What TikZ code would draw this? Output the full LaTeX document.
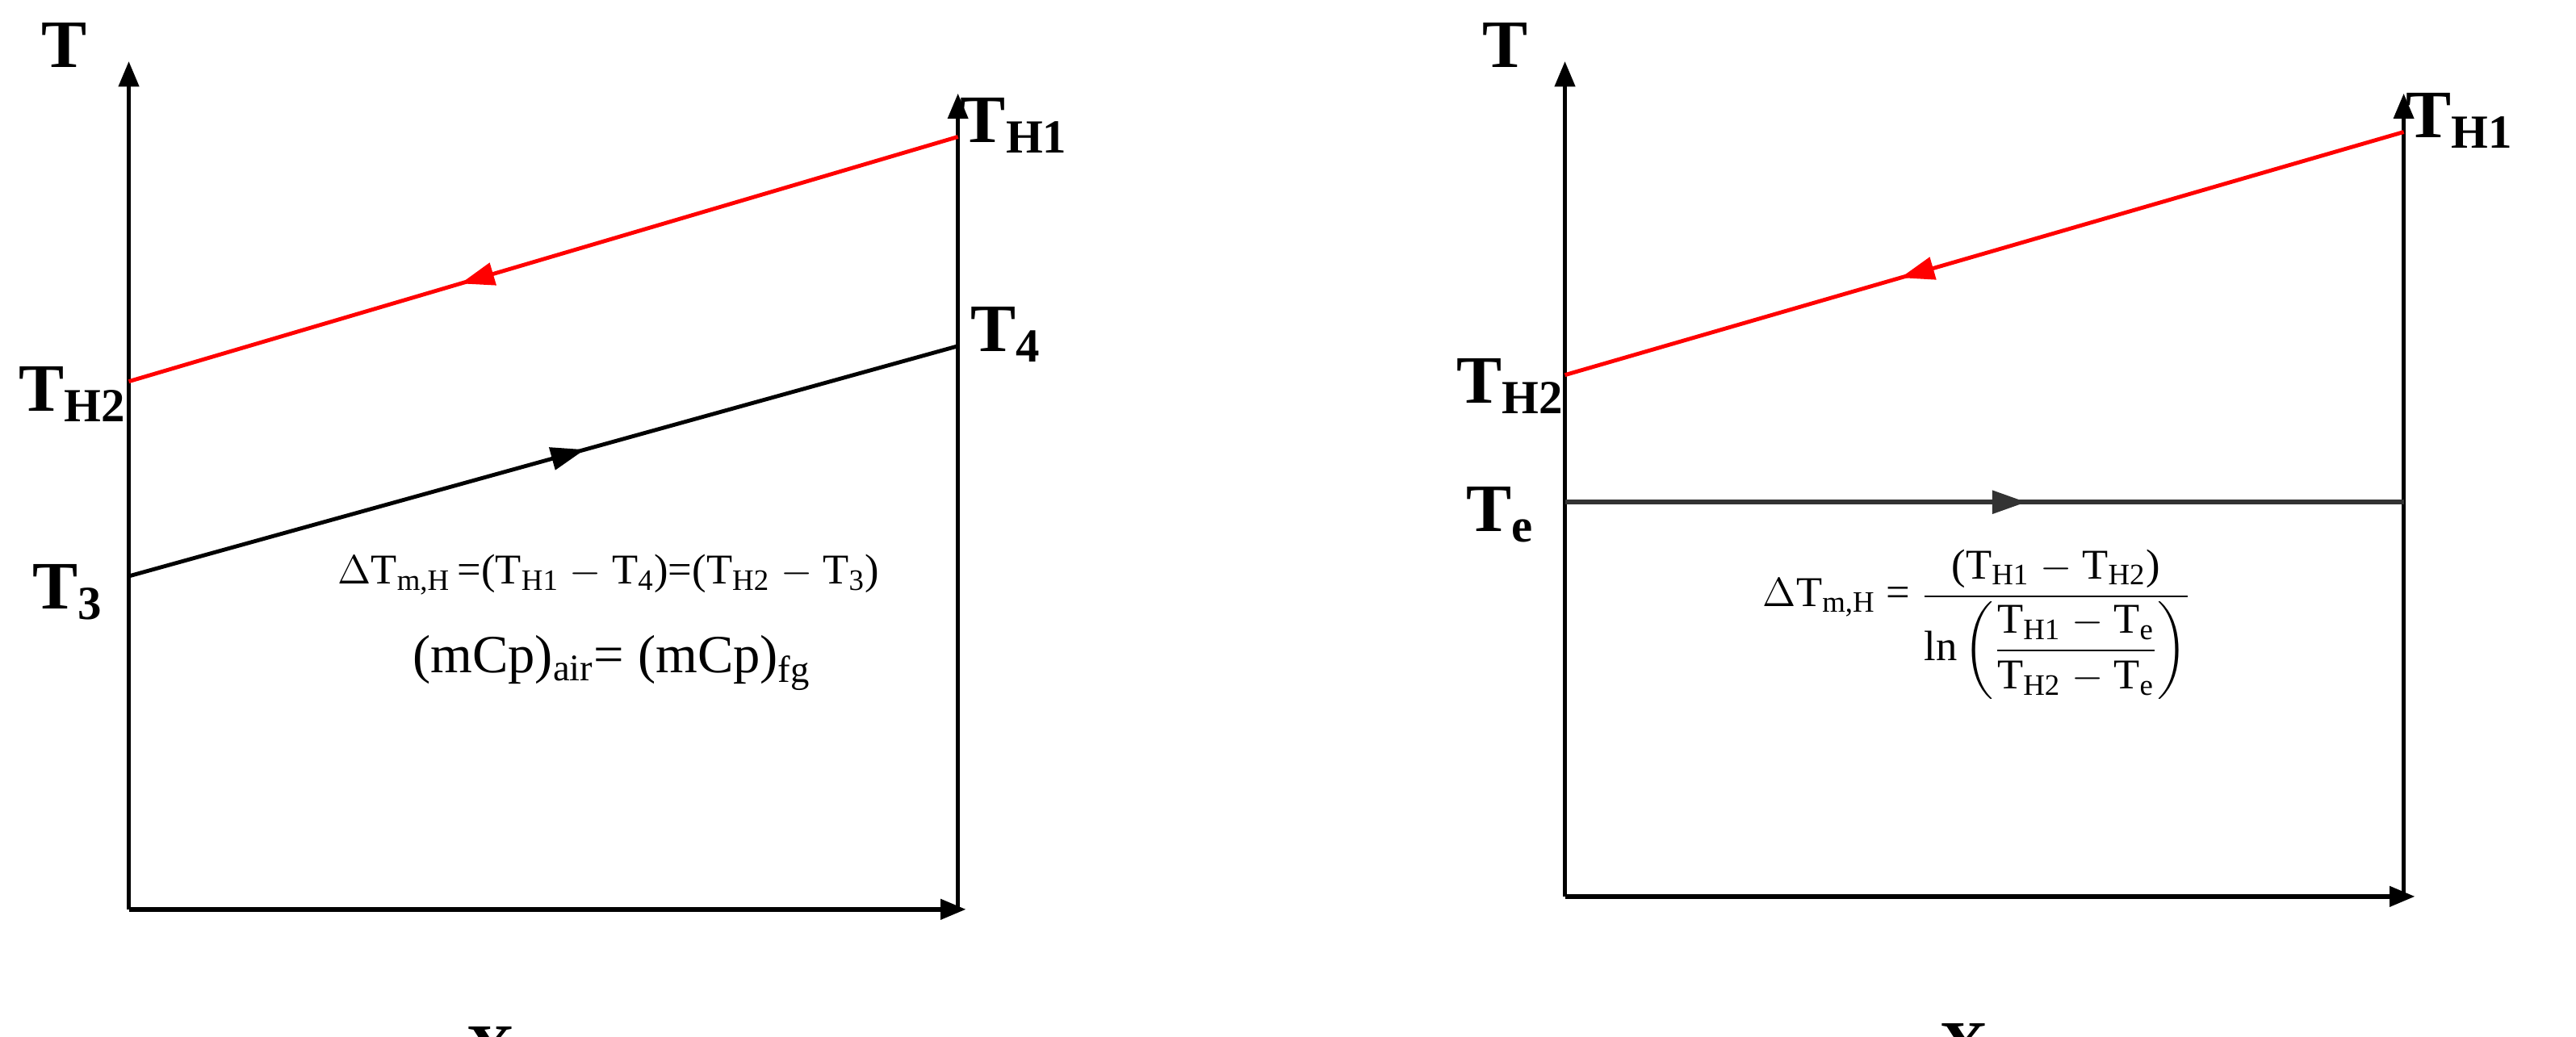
\documentclass[tikz,border=0pt]{standalone}
\usepackage{amsmath}
\usepackage{fontspec}
\setmainfont{Liberation Serif}
\usetikzlibrary{arrows.meta,decorations.markings}
\begin{document}
\begin{tikzpicture}[x=0.02cm,y=-0.02cm,
 ax/.style={line width=1.6pt,-{Triangle[length=9pt,width=7pt]}},
 lbl/.style={font=\fontsize{24}{28}\selectfont\bfseries,inner sep=0pt},
 frm/.style={font=\fontsize{15}{18}\selectfont,inner sep=0pt},
 midarrow/.style={decoration={markings,mark=at position #1 with {\arrow{Triangle[length=12pt,width=8pt]}}},postaction={decorate}}]
\useasboundingbox (0,0) rectangle (1600,644);
% panel a
\coordinate (ao) at (80,565);
\coordinate (ay) at (80,38);
\coordinate (ax) at (600,565);
\coordinate (ar0) at (595,565);
\coordinate (ar1) at (595,58);
\draw[ax] (ao) -- (ay);
\draw[ax] (ao) -- (ax);
\draw[ax] (ar0) -- (ar1);
\coordinate (ah1) at (595,85); \coordinate (ah2) at (80,237);
\coordinate (a4) at (595,215); \coordinate (a3) at (80,358);
\draw[red,line width=1.4pt,midarrow=0.6] (ah1) -- (ah2);
\draw[black,line width=1.4pt,midarrow=0.55] (a3) -- (a4);
\node[lbl] (aT) at (40,28) {T};
\node[lbl] (aTH2) at (45,245) {T\textsubscript{H2}};
\node[lbl] (aT3) at (42,368) {T\textsubscript{3}};
\node[lbl] (aTH1) at (630,78) {T\textsubscript{H1}};
\node[lbl] (aT4) at (625,208) {T\textsubscript{4}};
\node[lbl] (aX) at (305,652) {X};
\node[font=\fontsize{22}{26}\selectfont,inner sep=0pt] (acap) at (310,745) {(\textbf{a})};
\node[frm] (af1) at (378,357) {$\Delta$T\textsubscript{m,H}\,=(T\textsubscript{H1} $-$ T\textsubscript{4})=(T\textsubscript{H2} $-$ T\textsubscript{3})};
\node[font=\fontsize{19}{22}\selectfont,inner sep=0pt] (af2) at (380,412) {(mCp)\textsubscript{air}= (mCp)\textsubscript{fg}};
% panel b
\coordinate (bo) at (972,557);
\coordinate (by) at (972,38);
\coordinate (bx) at (1500,557);
\coordinate (br0) at (1493,557);
\coordinate (br1) at (1493,58);
\draw[ax] (bo) -- (by);
\draw[ax] (bo) -- (bx);
\draw[ax] (br0) -- (br1);
\coordinate (bh1) at (1493,82); \coordinate (bh2) at (972,233);
\coordinate (be0) at (972,312); \coordinate (be1) at (1493,312);
\draw[red,line width=1.4pt,midarrow=0.6] (bh1) -- (bh2);
\draw[black!80,line width=1.6pt,midarrow=0.55] (be0) -- (be1);
\node[lbl] (bT) at (935,28) {T};
\node[lbl] (bTH2) at (938,240) {T\textsubscript{H2}};
\node[lbl] (bTe) at (932,320) {T\textsubscript{e}};
\node[lbl] (bTH1) at (1528,75) {T\textsubscript{H1}};
\node[lbl] (bX) at (1220,650) {X};
\node[font=\fontsize{22}{26}\selectfont,inner sep=0pt] (bcap) at (1220,745) {(\textbf{b})};
\node[frm] (bf) at (1228,388) {$\Delta$T\textsubscript{m,H} = $\dfrac{\text{(T\textsubscript{H1} $-$ T\textsubscript{H2})}}{\text{ln}\left(\dfrac{\text{T\textsubscript{H1} $-$ T\textsubscript{e}}}{\text{T\textsubscript{H2} $-$ T\textsubscript{e}}}\right)}$};
\end{tikzpicture}
\end{document}
